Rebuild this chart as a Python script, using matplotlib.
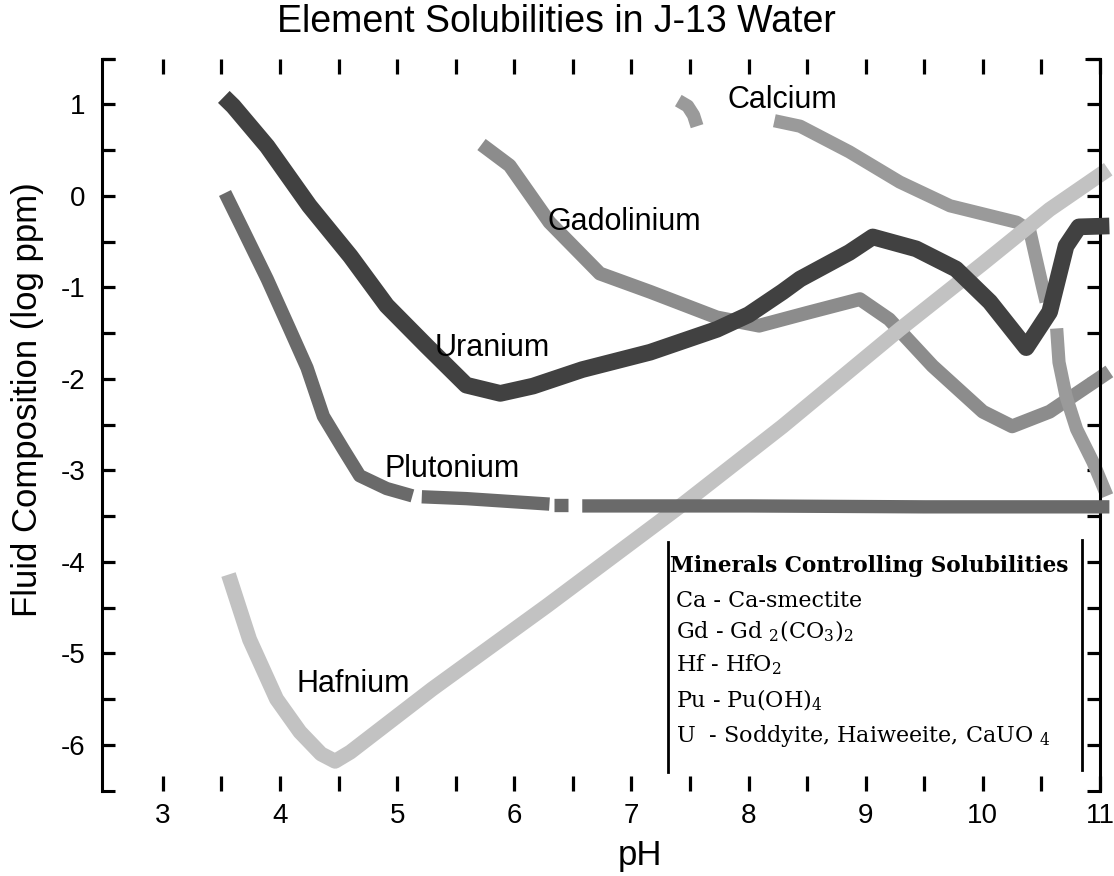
import numpy as np
import matplotlib
matplotlib.use('Agg')
import matplotlib.pyplot as plt
from matplotlib.lines import Line2D

plt.rcParams['font.family'] = ['Liberation Sans', 'DejaVu Sans']
plt.rcParams['mathtext.fontset'] = 'dejavuserif'

# ---------------- data ----------------
u_ph  = [3.52, 3.60, 3.89, 4.25, 4.60, 4.91, 5.25, 5.59, 5.88, 6.16, 6.58, 7.16, 7.73, 8.00,
         8.29, 8.44, 8.86, 9.06, 9.43, 9.77, 10.06, 10.37, 10.57, 10.71, 10.82, 11.08]
u_log = [1.08, 0.98, 0.54, -0.11, -0.66, -1.20, -1.64, -2.07, -2.16, -2.08, -1.90, -1.71, -1.46, -1.30,
         -1.05, -0.91, -0.62, -0.45, -0.58, -0.80, -1.16, -1.66, -1.27, -0.55, -0.34, -0.33]

pu_ph_a  = [3.53, 3.68, 3.89, 4.08, 4.23, 4.37, 4.54, 4.68, 4.91, 5.13]
pu_log_a = [0.03, -0.36, -0.91, -1.45, -1.88, -2.41, -2.77, -3.06, -3.20, -3.28]
pu_ph_b  = [5.21, 5.59, 6.30]
pu_log_b = [-3.29, -3.31, -3.37]
pu_ph_c  = [6.34, 6.46]
pu_log_c = [-3.38, -3.38]
pu_ph_d  = [6.58, 8.00, 9.50, 11.08]
pu_log_d = [-3.39, -3.39, -3.40, -3.40]

hf_ph  = [3.56, 3.74, 3.97, 4.17, 4.35, 4.47, 4.60, 5.30, 6.28, 7.45, 8.29, 9.29, 10.00, 10.57, 11.07]
hf_log = [-4.14, -4.85, -5.50, -5.86, -6.10, -6.18, -6.08, -5.39, -4.48, -3.36, -2.52, -1.46, -0.74, -0.15, 0.29]

gd_ph  = [5.72, 5.96, 6.30, 6.73, 7.16, 7.73, 8.09, 8.50, 8.95, 9.20, 9.57, 10.00, 10.25, 10.57, 11.08]
gd_log = [0.56, 0.33, -0.29, -0.85, -1.05, -1.33, -1.42, -1.28, -1.13, -1.35, -1.86, -2.36, -2.52, -2.36, -1.92]

ca_ph_a  = [7.40, 7.48, 7.53, 7.56]
ca_log_a = [1.04, 0.98, 0.88, 0.76]
ca_ph_b  = [8.22, 8.44, 8.86, 9.29, 9.72, 10.29, 10.40, 10.46, 10.51, 10.54]
ca_log_b = [0.82, 0.76, 0.48, 0.15, -0.11, -0.29, -0.38, -0.72, -1.00, -1.16]
ca_ph_c  = [10.63, 10.65, 10.71, 10.80, 10.94, 11.06]
ca_log_c = [-1.45, -1.82, -2.19, -2.55, -2.91, -3.28]

curve_labels = ['Uranium', 'Plutonium', 'Gadolinium', 'Calcium', 'Hafnium']
label_ph  = [5.32, 4.89, 6.28, 7.82, 4.14]
label_log = [-1.66, -2.99, -0.29, 1.045, -5.34]

x_major = [3, 4, 5, 6, 7, 8, 9, 10, 11]
y_major = [-6, -5, -4, -3, -2, -1, 0, 1]

legend_title = 'Minerals Controlling Solubilities'
legend_rows = ['Ca - Ca-smectite',
               r'Gd - Gd $_2$(CO$_3$)$_2$',
               r'Hf - HfO$_2$',
               r'Pu - Pu(OH)$_4$',
               r'U  - Soddyite, Haiweeite, CaUO $_4$']

# ---------------- figure ----------------
W, H = 1114, 876
fig = plt.figure(figsize=(W / 100, H / 100), dpi=100)
AL, AR, AT, AB = 102, 1100, 58.5, 790.5
ax = fig.add_axes([AL / W, 1 - AB / H, (AR - AL) / W, (AB - AT) / H])
ax.set_xlim(2.48, 11.0)
ax.set_ylim(-6.5, 1.5)

def px(x, y):
    return x / W, 1 - y / H

c_u, c_pu, c_gd, c_ca, c_hf = '#414141', '#6a6a6a', '#8c8c8c', '#9a9a9a', '#c2c2c2'
kw = dict(solid_capstyle='butt', solid_joinstyle='round', clip_on=False)

ax.plot(gd_ph, gd_log, color=c_gd, lw=10, zorder=2, **kw)
for xs, ys in [(ca_ph_a, ca_log_a), (ca_ph_b, ca_log_b), (ca_ph_c, ca_log_c)]:
    ax.plot(xs, ys, color=c_ca, lw=9.5, zorder=2.2, **kw)
ax.plot(hf_ph, hf_log, color=c_hf, lw=10.8, zorder=2.4, **kw)
for xs, ys in [(pu_ph_a, pu_log_a), (pu_ph_b, pu_log_b), (pu_ph_c, pu_log_c), (pu_ph_d, pu_log_d)]:
    ax.plot(xs, ys, color=c_pu, lw=9.6, zorder=2.6, **kw)
ax.plot(u_ph, u_log, color=c_u, lw=12, zorder=2.8, **kw)

for t, x, y in zip(curve_labels, label_ph, label_log):
    ax.text(x, y, t, fontsize=22, ha='left', va='center', zorder=5)

# spines / frame
for s in ['top', 'bottom']:
    ax.spines[s].set_visible(False)
for s in ['left', 'right']:
    ax.spines[s].set_linewidth(2.2)
    ax.spines[s].set_zorder(2.5)

ax.set_xticks(x_major)
ax.set_xticks(np.array(x_major[:-1]) + 0.5, minor=True)
ax.set_yticks(y_major)
ax.set_yticks(np.array(y_major) + 0.5, minor=True)
ax.set_yticklabels([str(v) for v in y_major])
ax.tick_params(which='both', direction='in', top=True, bottom=True, left=True, right=True,
               length=11, width=2.3, color='black')
ax.tick_params(axis='x', which='major', labelsize=20, pad=9)
ax.tick_params(axis='y', which='major', labelsize=20, pad=12)
ax.tick_params(axis='y', which='both', length=9.5)

# frame corners
corner_kw = dict(color='black', lw=2.2, solid_capstyle='butt')
fig.add_artist(Line2D([px(AL - 1, 0)[0], px(AL + 13, 0)[0]], [px(0, AT)[1]] * 2, **corner_kw))
fig.add_artist(Line2D([px(AL - 1, 0)[0], px(AL + 13, 0)[0]], [px(0, AB)[1]] * 2, **corner_kw))
fig.add_artist(Line2D([px(AR - 15, 0)[0], px(AR + 1, 0)[0]], [px(0, AT)[1]] * 2, **corner_kw))
fig.add_artist(Line2D([px(AR - 13, 0)[0], px(AR + 1, 0)[0]], [px(0, AB)[1]] * 2, **corner_kw))

# titles
fig.text(px(556, 0)[0], px(0, 22)[1], 'Element Solubilities in J-13 Water', fontsize=27,
         ha='center', va='center')
fig.text(px(640, 0)[0], px(0, 855)[1], 'pH', fontsize=25, ha='center', va='center')
fig.text(px(28, 0)[0], px(0, 400)[1], 'Fluid Composition (log ppm)', fontsize=25,
         ha='center', va='center', rotation=90)

# legend box
fig.add_artist(Line2D([px(668, 0)[0]] * 2, [px(0, 542)[1], px(0, 772)[1]], color='black', lw=2))
fig.add_artist(Line2D([px(1082, 0)[0]] * 2, [px(0, 540)[1], px(0, 770)[1]], color='black', lw=2))
serif = ['DejaVu Serif']
fig.text(*px(670, 572), legend_title, fontsize=15.6, fontweight='bold', family=serif,
         ha='left', va='baseline')
for row, yb in zip(legend_rows, [607, 638, 671, 707, 742]):
    fig.text(*px(676, yb), row, fontsize=16, family=serif, ha='left', va='baseline')

fig.savefig('out.png', dpi=100)
